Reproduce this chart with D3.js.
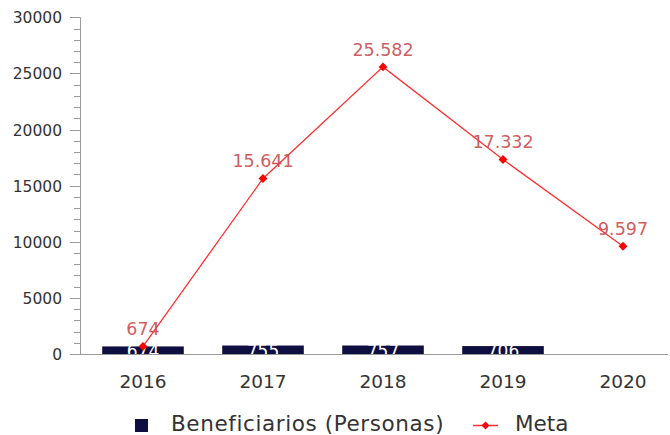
<!DOCTYPE html>
<html>
<head>
<meta charset="utf-8">
<script src="https://cdn.jsdelivr.net/npm/d3@7"></script>
<style>
  body{ margin:0; background:#fff; }
  svg{ display:block; font-family:"DejaVu Sans", sans-serif; }
</style>
</head>
<body>
<div id="chart"></div>
<script>
const years = ["2016", "2017", "2018", "2019", "2020"];
const beneficiarios = [674, 755, 757, 706, null];
const meta = [674, 15641, 25582, 17332, 9597];
const yTicks = [0, 5000, 10000, 15000, 20000, 25000, 30000];

const width = 670, height = 435;

const svg = d3.select("#chart").append("svg")
    .attr("width", width)
    .attr("height", height);

const x = d3.scaleBand()
    .domain(years)
    .range([83, 683])
    .paddingInner(0.32)
    .paddingOuter(0.16);

const y = d3.scaleLinear()
    .domain([0, 30000])
    .range([354, 17.3]);

const axisColor = "#9a9a9a";
const fmt = (v) => d3.format(",")(v).replace(/,/g, ".");

// minor ticks every 1000
svg.append("g")
    .selectAll("line")
    .data(d3.range(0, 30001, 1000))
    .enter().append("line")
    .attr("x1", (d) => d % 5000 === 0 ? 70 : 74)
    .attr("x2", 80)
    .attr("y1", (d) => Math.round(y(d)) + 0.5)
    .attr("y2", (d) => Math.round(y(d)) + 0.5)
    .attr("stroke", axisColor)
    .attr("stroke-width", 1);

// y axis line
svg.append("line")
    .attr("x1", 80.5).attr("x2", 80.5)
    .attr("y1", y(30000)).attr("y2", y(0) + 0.5)
    .attr("stroke", axisColor);

svg.append("g")
    .selectAll("text")
    .data(yTicks)
    .enter().append("text")
    .attr("x", 62)
    .attr("y", (d) => y(d) + 6)
    .attr("text-anchor", "end")
    .attr("fill", "#333")
    .style("font-size", "15.5px")
    .text((d) => d);

// bars
const bars = svg.append("g");
years.forEach((yr, i) => {
  const v = beneficiarios[i];
  if (v == null) return;
  bars.append("rect")
      .attr("x", x(yr))
      .attr("y", y(v))
      .attr("width", x.bandwidth())
      .attr("height", y(0) - y(v))
      .attr("fill", "#0e0e40");
  bars.append("text")
      .attr("x", x(yr) + x.bandwidth() / 2)
      .attr("y", y(v) + 11)
      .attr("text-anchor", "middle")
      .attr("fill", "#fff")
      .style("font-size", "17px")
      .text(fmt(v));
});

// x axis line
svg.append("line")
    .attr("x1", 80).attr("x2", 668)
    .attr("y1", Math.round(y(0)) + 0.5).attr("y2", Math.round(y(0)) + 0.5)
    .attr("stroke", axisColor);

svg.append("g")
    .selectAll("text")
    .data(years)
    .enter().append("text")
    .attr("x", (d) => x(d) + x.bandwidth() / 2)
    .attr("y", 388)
    .attr("text-anchor", "middle")
    .attr("fill", "#333")
    .style("font-size", "18.5px")
    .text((d) => d);

// meta line
const cx = (d, i) => x(years[i]) + x.bandwidth() / 2;
svg.append("path")
    .datum(meta)
    .attr("fill", "none")
    .attr("stroke", "#ff3030")
    .attr("stroke-width", 1.3)
    .attr("d", d3.line().x(cx).y((d) => y(d)));

svg.append("g")
    .selectAll("path")
    .data(meta)
    .enter().append("path")
    .attr("transform", (d, i) => "translate(" + cx(d, i) + "," + y(d) + ")")
    .attr("d", d3.symbol(d3.symbolDiamond2, 50))
    .attr("fill", "#ff0000");

svg.append("g")
    .selectAll("text")
    .data(meta)
    .enter().append("text")
    .attr("x", cx)
    .attr("y", (d) => y(d) - 11)
    .attr("text-anchor", "middle")
    .attr("fill", "#c9484c")
    .attr("fill-opacity", 0.9)
    .style("font-size", "17.5px")
    .text(fmt);

// legend
const lg = svg.append("g");
lg.append("rect")
    .attr("x", 135).attr("y", 419)
    .attr("width", 13).attr("height", 13)
    .attr("fill", "#0e0e40");
lg.append("text")
    .attr("x", 171).attr("y", 431)
    .attr("fill", "#333")
    .style("font-size", "21.5px")
    .style("letter-spacing", "0.6px")
    .text("Beneficiarios (Personas)");
lg.append("line")
    .attr("x1", 473).attr("x2", 498)
    .attr("y1", 425.5).attr("y2", 425.5)
    .attr("stroke", "#ff3030").attr("stroke-width", 1.5);
lg.append("path")
    .attr("transform", "translate(485.5,425.5)")
    .attr("d", d3.symbol(d3.symbolDiamond2, 40))
    .attr("fill", "#ff0000");
lg.append("text")
    .attr("x", 515).attr("y", 431)
    .attr("fill", "#333")
    .style("font-size", "21.5px")
    .text("Meta");
</script>
</body>
</html>
